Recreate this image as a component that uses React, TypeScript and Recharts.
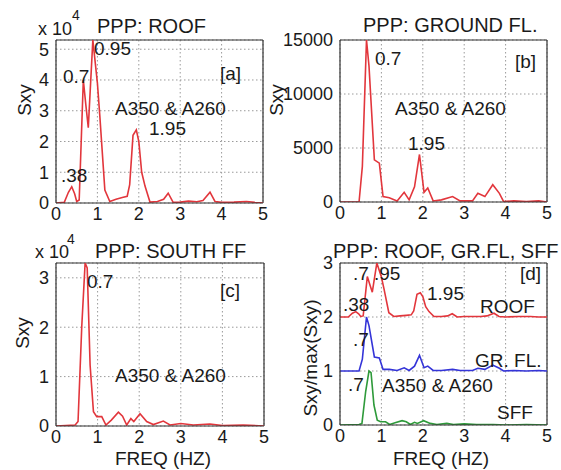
import React from 'react';
import { LineChart, Line, XAxis, YAxis, CartesianGrid, ReferenceLine } from 'recharts';

const freqTicks = [0, 1, 2, 3, 4, 5];

// [a] PPP: ROOF  (Sxy, x 10^4)
const roofFreq = [0, 0.2, 0.3, 0.38, 0.45, 0.5, 0.56, 0.66, 0.72, 0.78, 0.89, 1.0, 1.06, 1.18, 1.3, 1.45, 1.6, 1.72, 1.78, 1.86, 1.94, 2.0, 2.07, 2.15, 2.27, 2.45, 2.6, 2.71, 2.83, 3.0, 3.2, 3.4, 3.55, 3.72, 3.84, 4.0, 4.3, 4.6, 4.8, 5.0];
const roofSxy = [0, 0.02, 0.35, 0.53, 0.3, 0.05, 0.1, 4.0, 3.2, 2.45, 5.3, 3.9, 2.8, 0.42, 0.05, 0.12, 0.18, 0.22, 0.6, 2.2, 2.38, 2.0, 1.0, 0.55, 0.03, 0.05, 0.12, 0.32, 0.02, 0.03, 0.06, 0.04, 0.08, 0.35, 0.05, 0.02, 0.03, 0.05, 0.02, 0];

// [b] PPP: GROUND FL.
const groundFreq = [0, 0.46, 0.54, 0.64, 0.7, 0.83, 0.95, 1.04, 1.19, 1.38, 1.55, 1.67, 1.8, 1.92, 2.03, 2.12, 2.25, 2.45, 2.72, 2.9, 3.2, 3.33, 3.5, 3.69, 3.85, 3.95, 4.2, 4.5, 4.8, 5.0];
const groundSxy = [0, 0, 3300, 15000, 12600, 3900, 3600, 500, 400, 100, 900, 200, 1400, 4400, 900, 1300, 100, 200, 500, 100, 100, 800, 500, 1600, 800, 50, 100, 50, 100, 0];

// [c] PPP: SOUTH FF  (Sxy, x 10^4)
const southFreq = [0, 0.46, 0.53, 0.62, 0.7, 0.75, 0.82, 0.9, 0.98, 1.1, 1.2, 1.33, 1.5, 1.6, 1.7, 1.8, 1.87, 2.02, 2.18, 2.34, 2.58, 2.74, 3.0, 3.3, 3.7, 4.0, 4.5, 5.0];
const southSxy = [0, 0.02, 0.09, 2.03, 3.3, 3.2, 1.23, 0.29, 0.19, 0.19, 0.02, 0.12, 0.28, 0.2, 0.02, 0.15, 0.09, 0.25, 0.09, 0.03, 0.1, 0.02, 0.05, 0.02, 0.04, 0.01, 0.02, 0];

// [d] Sxy/max(Sxy), stacked by 2 / 1 / 0
const roofNorm = [2.0, 2.0, 2.07, 2.1, 2.06, 2.01, 2.02, 2.75, 2.6, 2.46, 3.0, 2.74, 2.53, 2.08, 2.01, 2.02, 2.03, 2.04, 2.11, 2.42, 2.45, 2.38, 2.19, 2.1, 2.01, 2.01, 2.02, 2.06, 2.0, 2.01, 2.01, 2.01, 2.02, 2.07, 2.01, 2.0, 2.01, 2.01, 2.0, 2.0];
const groundNorm = [1, 1, 1.22, 2.0, 1.84, 1.26, 1.24, 1.03, 1.03, 1.01, 1.06, 1.01, 1.09, 1.29, 1.06, 1.09, 1.01, 1.01, 1.03, 1.01, 1.01, 1.05, 1.03, 1.11, 1.05, 1.0, 1.01, 1.0, 1.01, 1.0];
const southNorm = [0, 0.01, 0.03, 0.62, 1.0, 0.97, 0.37, 0.09, 0.06, 0.06, 0.01, 0.04, 0.08, 0.06, 0.01, 0.05, 0.03, 0.08, 0.03, 0.01, 0.03, 0.01, 0.02, 0.01, 0.01, 0, 0.01, 0];

const toRows = (f: number[], v: number[]) => f.map((x, i) => ({ f: x, v: v[i] }));

const RED = '#e2363c';
const BLUE = '#3434d8';
const GREEN = '#2e9a3a';
const INK = '#1a1a1a';
const FRAME = { stroke: '#333', strokeWidth: 1.2 };
const FONT = 'Liberation Sans, Arial, Helvetica, sans-serif';
const tickStyle = { fontSize: 18, fill: INK, fontFamily: FONT };

type Series = { rows: { f: number; v: number }[]; color: string };
type PanelProps = {
  left: number;
  top: number;
  width: number;
  height: number;
  margin: { top: number; right: number; bottom: number; left: number };
  yDomain: [number, number];
  yTicks: number[];
  series: Series[];
};

const Panel = ({ left, top, width, height, margin, yDomain, yTicks, series }: PanelProps) => (
  <div style={{ position: 'absolute', left, top }}>
    <LineChart width={width} height={height} margin={margin}>
      <CartesianGrid stroke="#9a9a9a" strokeDasharray="1.5 2.5" />
      <XAxis
        dataKey="f"
        type="number"
        domain={[0, 5]}
        ticks={freqTicks}
        height={25}
        tickSize={0}
        tickMargin={4}
        tickLine={false}
        axisLine={FRAME}
        tick={tickStyle}
        allowDataOverflow
      />
      <YAxis
        type="number"
        domain={yDomain}
        ticks={yTicks}
        width={50}
        tickSize={0}
        tickMargin={7}
        tickLine={false}
        axisLine={FRAME}
        tick={tickStyle}
        allowDataOverflow
        interval={0}
      />
      {/* box: top and right edges */}
      <ReferenceLine y={yDomain[1]} stroke={FRAME.stroke} strokeWidth={FRAME.strokeWidth} />
      <ReferenceLine x={5} stroke={FRAME.stroke} strokeWidth={FRAME.strokeWidth} />
      {series.map((s, i) => (
        <Line
          key={i}
          data={s.rows}
          dataKey="v"
          type="linear"
          stroke={s.color}
          strokeWidth={1.6}
          dot={false}
          isAnimationActive={false}
        />
      ))}
    </LineChart>
  </div>
);

const T = ({ x, y, size = 19, children }: { x: number; y: number; size?: number; children: React.ReactNode }) => (
  <text x={x} y={y} fontSize={size} fill={INK} fontFamily={FONT}>
    {children}
  </text>
);

const VLabel = ({ x, y, children }: { x: number; y: number; children: React.ReactNode }) => (
  <text
    x={x}
    y={y}
    fontSize={19}
    fill={INK}
    fontFamily={FONT}
    textAnchor="middle"
    dominantBaseline="central"
    transform={`rotate(-90, ${x}, ${y})`}
  >
    {children}
  </text>
);

export default function App() {
  return (
    <div style={{ position: 'absolute', left: 0, top: 0, width: 561, height: 470, background: '#fff' }}>
      <Panel
        left={0}
        top={0}
        width={280}
        height={230}
        margin={{ top: 40, right: 17, bottom: 2, left: 6 }}
        yDomain={[0, 5.3]}
        yTicks={[0, 1, 2, 3, 4, 5]}
        series={[{ rows: toRows(roofFreq, roofSxy), color: RED }]}
      />
      <Panel
        left={280}
        top={0}
        width={281}
        height={230}
        margin={{ top: 40, right: 14, bottom: 3, left: 10 }}
        yDomain={[0, 15000]}
        yTicks={[0, 5000, 10000, 15000]}
        series={[{ rows: toRows(groundFreq, groundSxy), color: RED }]}
      />
      <Panel
        left={0}
        top={230}
        width={280}
        height={240}
        margin={{ top: 33, right: 16, bottom: 19, left: 6 }}
        yDomain={[0, 3.3]}
        yTicks={[0, 1, 2, 3]}
        series={[{ rows: toRows(southFreq, southSxy), color: RED }]}
      />
      <Panel
        left={280}
        top={230}
        width={281}
        height={240}
        margin={{ top: 33, right: 14, bottom: 20, left: 10 }}
        yDomain={[0, 3]}
        yTicks={[0, 1, 2, 3]}
        series={[
          { rows: toRows(roofFreq, roofNorm), color: RED },
          { rows: toRows(groundFreq, groundNorm), color: BLUE },
          { rows: toRows(southFreq, southNorm), color: GREEN },
        ]}
      />
      <svg width={561} height={470} style={{ position: 'absolute', left: 0, top: 0, pointerEvents: 'none' }}>
        {/* [a] */}
        <T x={38} y={35} size={18}>x 10</T>
        <T x={72} y={20} size={14}>4</T>
        <T x={97} y={33} size={20}>PPP: ROOF</T>
        <T x={94} y={55}>0.95</T>
        <T x={63} y={83}>0.7</T>
        <T x={220} y={80}>[a]</T>
        <T x={115} y={115}>A350 &amp; A260</T>
        <T x={149} y={135}>1.95</T>
        <T x={61} y={182}>.38</T>
        <VLabel x={24} y={100}>Sxy</VLabel>
        {/* [b] */}
        <T x={363} y={32} size={20}>PPP: GROUND FL.</T>
        <T x={375} y={65}>0.7</T>
        <T x={515} y={68}>[b]</T>
        <T x={395} y={115}>A350 &amp; A260</T>
        <T x={408} y={150}>1.95</T>
        <VLabel x={276} y={100}>Sxy</VLabel>
        {/* [c] */}
        <T x={35} y={258} size={18}>x 10</T>
        <T x={67} y={244} size={14}>4</T>
        <T x={95} y={258} size={20}>PPP: SOUTH FF</T>
        <T x={87} y={288}>0.7</T>
        <T x={220} y={297}>[c]</T>
        <T x={115} y={382}>A350 &amp; A260</T>
        <T x={115} y={465}>FREQ (HZ)</T>
        <VLabel x={22} y={333}>Sxy</VLabel>
        {/* [d] */}
        <T x={333} y={258} size={20}>PPP: ROOF, GR.FL, SFF</T>
        <T x={353} y={280}>.7</T>
        <T x={374} y={280}>.95</T>
        <T x={520} y={280}>[d]</T>
        <T x={343} y={311}>.38</T>
        <T x={427} y={300}>1.95</T>
        <T x={480} y={313}>ROOF</T>
        <T x={353} y={346}>.7</T>
        <T x={475} y={367}>GR. FL.</T>
        <T x={348} y={391}>.7</T>
        <T x={382} y={392}>A350 &amp; A260</T>
        <T x={497} y={419}>SFF</T>
        <T x={393} y={465}>FREQ (HZ)</T>
        <VLabel x={310} y={358}>Sxy/max(Sxy)</VLabel>
      </svg>
    </div>
  );
}
